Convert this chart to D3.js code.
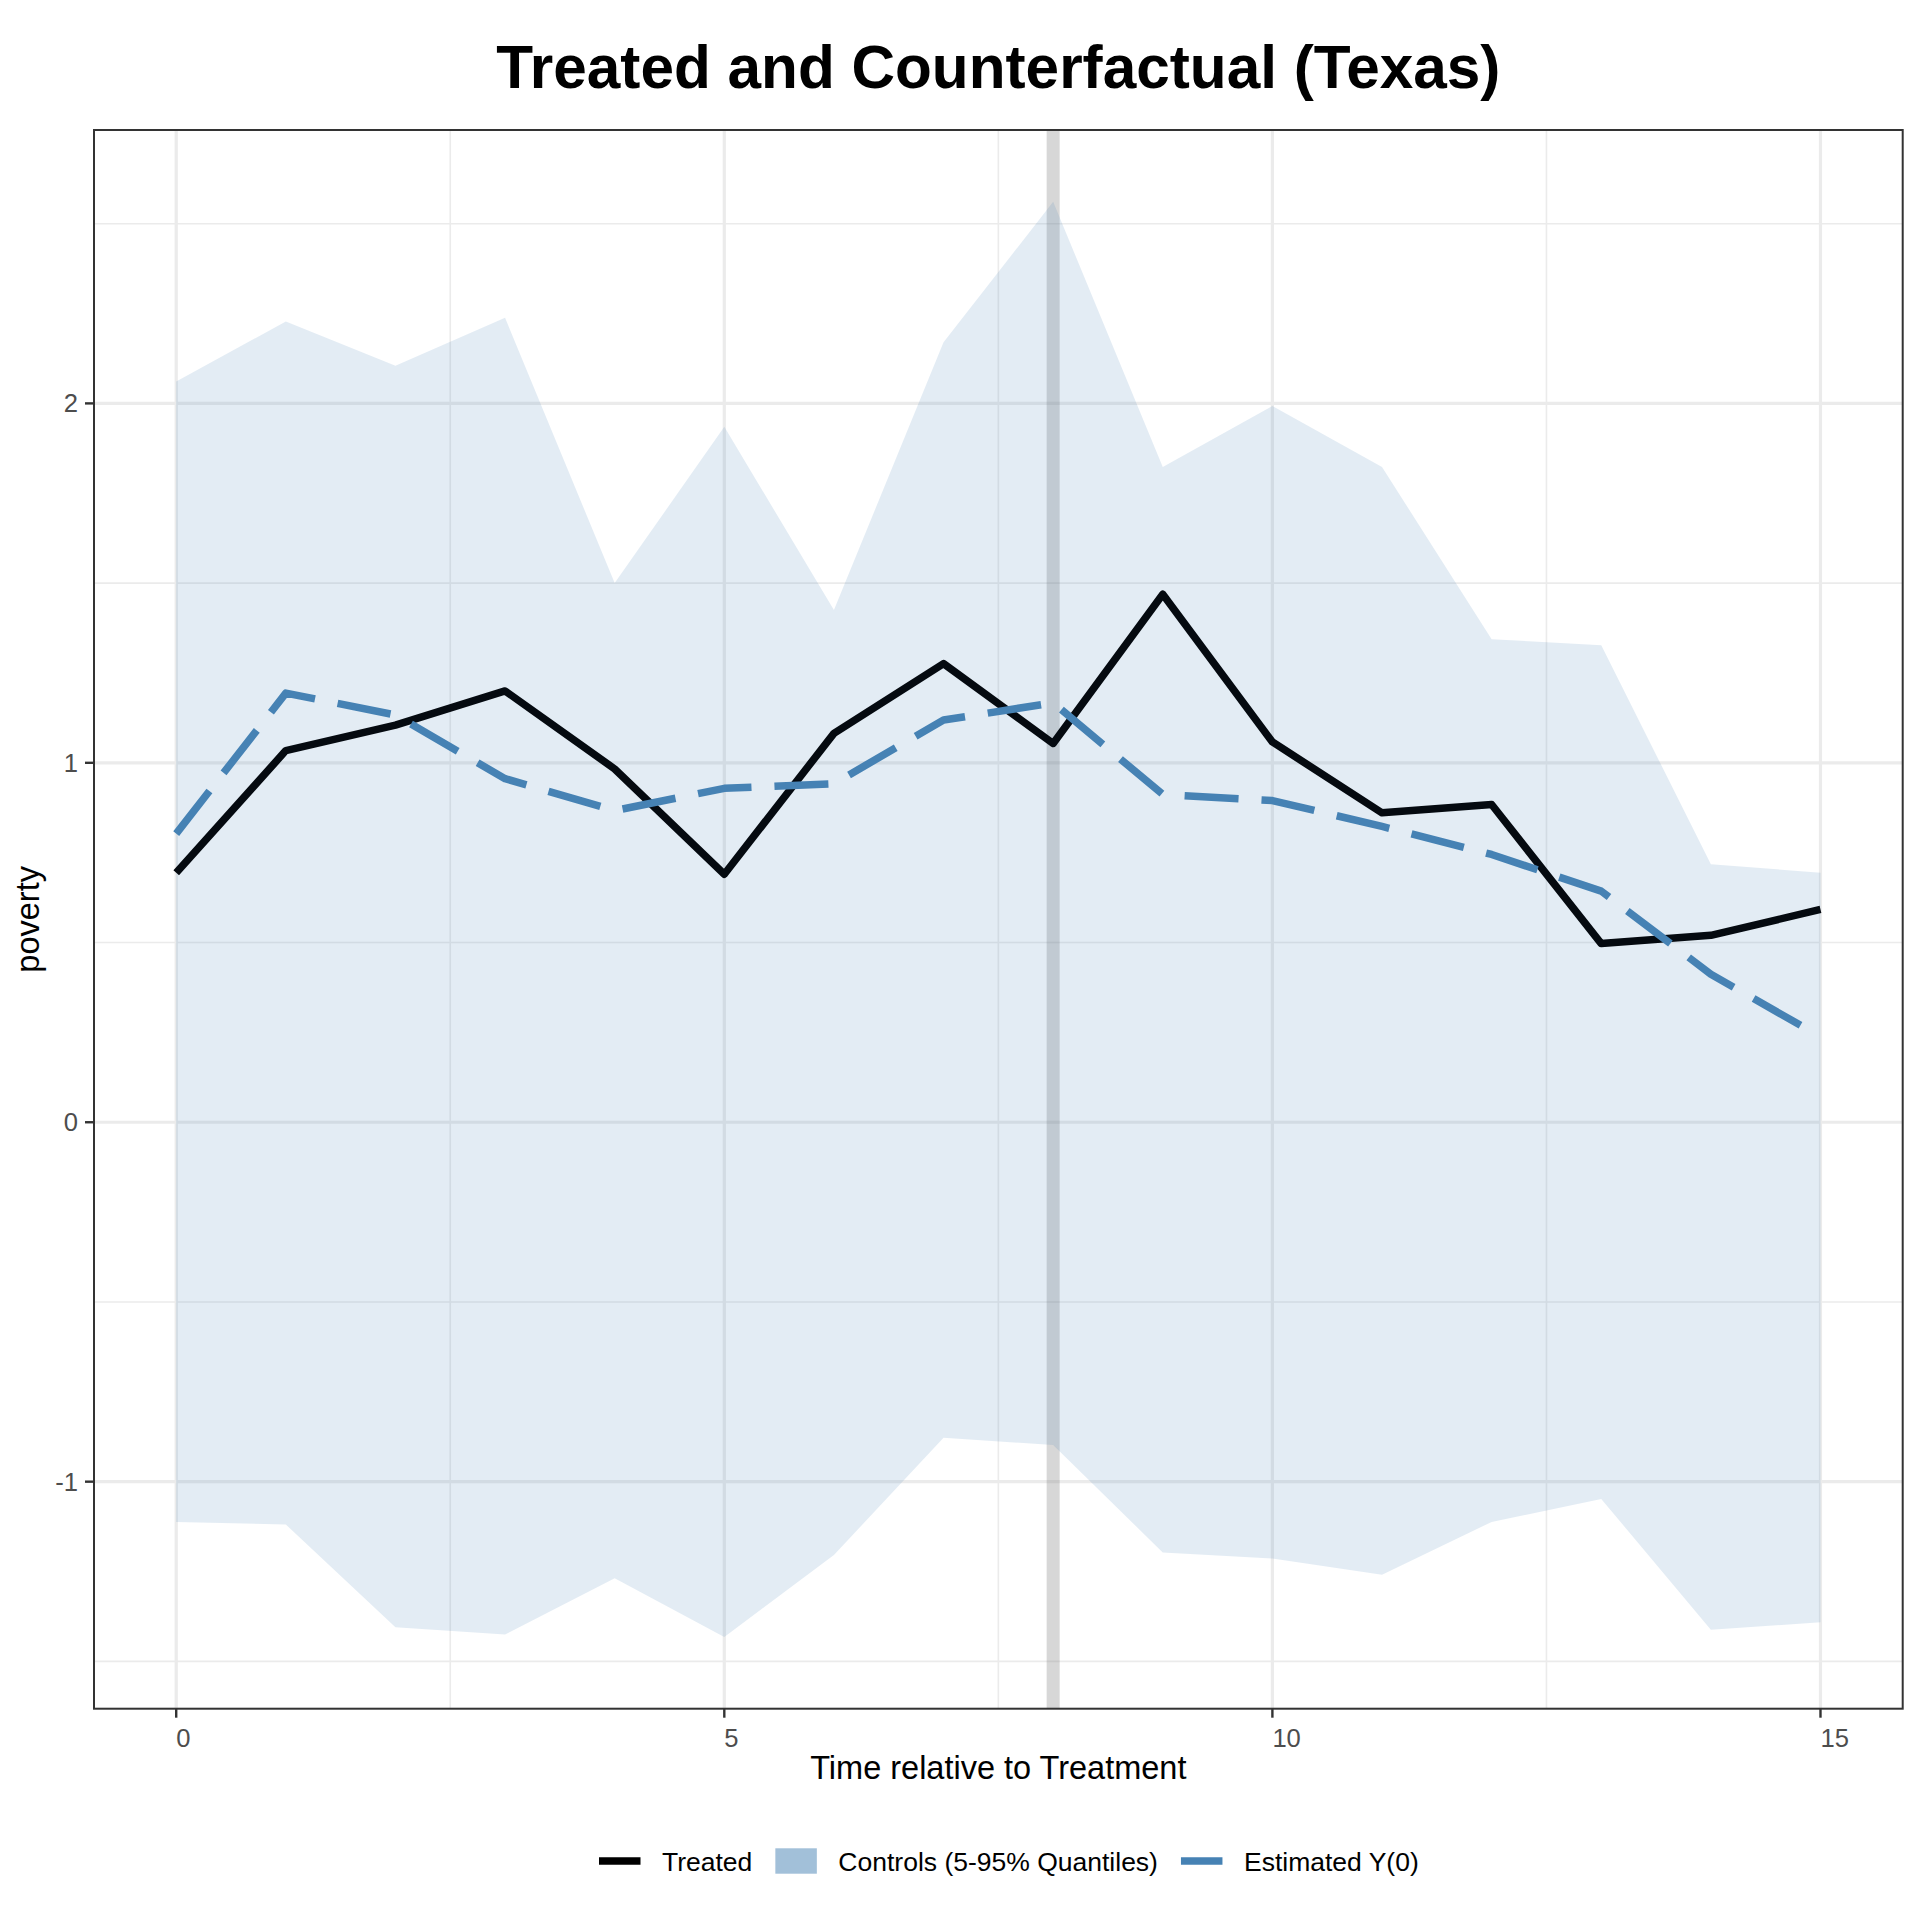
<!DOCTYPE html>
<html>
<head>
<meta charset="utf-8">
<script src="https://cdn.jsdelivr.net/npm/d3@7/dist/d3.min.js"></script>
<style>
  html, body { margin: 0; padding: 0; background: #ffffff; }
  svg { display: block; font-family: "Liberation Sans", Arial, Helvetica, sans-serif; }
</style>
</head>
<body>
<svg id="chart" width="1920" height="1920"></svg>
<script>
// ---- data ----
const times = [0, 1, 2, 3, 4, 5, 6, 7, 8, 9, 10, 11, 12, 13, 14, 15];
const treated = [0.694, 1.034, 1.105, 1.200, 0.983, 0.690, 1.082, 1.276, 1.054, 1.469, 1.058, 0.861, 0.884, 0.497, 0.520, 0.592];
const estimatedY0 = [0.803, 1.194, 1.133, 0.956, 0.867, 0.929, 0.942, 1.119, 1.167, 0.912, 0.895, 0.823, 0.745, 0.643, 0.412, 0.238];
const controlsUpper = [2.061, 2.228, 2.105, 2.238, 1.500, 1.935, 1.425, 2.170, 2.561, 1.823, 1.993, 1.823, 1.344, 1.327, 0.718, 0.694];
const controlsLower = [-1.112, -1.119, -1.405, -1.425, -1.269, -1.432, -1.204, -0.878, -0.898, -1.197, -1.214, -1.259, -1.112, -1.048, -1.412, -1.391];
const treatmentTime = 8;
const xTicks = [0, 5, 10, 15];
const xMinor = [2.5, 7.5, 12.5];
const yTicks = [-1, 0, 1, 2];
const yMinor = [-1.5, -0.5, 0.5, 1.5, 2.5];
const xTickLabels = ["0", "5", "10", "15"];
const yTickLabels = ["-1", "0", "1", "2"];
const titleText = "Treated and Counterfactual (Texas)";
const xTitle = "Time relative to Treatment";
const yTitle = "poverty";
const legendLabels = ["Treated", "Controls (5-95% Quantiles)", "Estimated Y(0)"];

// ---- layout ----
const panel = { left: 94, right: 1902.7, top: 130, bottom: 1708.7 };
const svg = d3.select("#chart");

const xExt = d3.extent(times);
const xPad = (xExt[1] - xExt[0]) * 0.05;
const x = d3.scaleLinear().domain([xExt[0] - xPad, xExt[1] + xPad]).range([panel.left, panel.right]);

const yMin = d3.min([...controlsLower, ...treated, ...estimatedY0]);
const yMax = d3.max([...controlsUpper, ...treated, ...estimatedY0]);
const yPad = (yMax - yMin) * 0.05;
const y = d3.scaleLinear().domain([yMin - yPad, yMax + yPad]).range([panel.bottom, panel.top]);

const rows = times.map((t, i) => ({ t, tr: treated[i], est: estimatedY0[i], lo: controlsLower[i], hi: controlsUpper[i] }));

svg.append("rect").attr("x", panel.left).attr("y", panel.top)
  .attr("width", panel.right - panel.left).attr("height", panel.bottom - panel.top)
  .attr("fill", "#ffffff");

const clip = svg.append("defs").append("clipPath").attr("id", "pclip");
clip.append("rect").attr("x", panel.left).attr("y", panel.top)
  .attr("width", panel.right - panel.left).attr("height", panel.bottom - panel.top);

const g = svg.append("g").attr("clip-path", "url(#pclip)");

// grid
const grid = g.append("g");
grid.selectAll(".ymin").data(yMinor).join("line")
  .attr("x1", panel.left).attr("x2", panel.right)
  .attr("y1", d => y(d)).attr("y2", d => y(d))
  .attr("stroke", "#ebebeb").attr("stroke-width", 1.6);
grid.selectAll(".xmin").data(xMinor).join("line")
  .attr("y1", panel.top).attr("y2", panel.bottom)
  .attr("x1", d => x(d)).attr("x2", d => x(d))
  .attr("stroke", "#ebebeb").attr("stroke-width", 1.6);
grid.selectAll(".ymaj").data(yTicks).join("line")
  .attr("x1", panel.left).attr("x2", panel.right)
  .attr("y1", d => y(d)).attr("y2", d => y(d))
  .attr("stroke", "#ebebeb").attr("stroke-width", 3.2);
grid.selectAll(".xmaj").data(xTicks).join("line")
  .attr("y1", panel.top).attr("y2", panel.bottom)
  .attr("x1", d => x(d)).attr("x2", d => x(d))
  .attr("stroke", "#ebebeb").attr("stroke-width", 3.2);

// treatment vertical line
g.append("line")
  .attr("x1", x(treatmentTime)).attr("x2", x(treatmentTime))
  .attr("y1", panel.top).attr("y2", panel.bottom)
  .attr("stroke", "#7f7f7f").attr("stroke-opacity", 0.31).attr("stroke-width", 13);

// ribbon
const area = d3.area().x(d => x(d.t)).y0(d => y(d.lo)).y1(d => y(d.hi));
g.append("path").datum(rows).attr("d", area)
  .attr("fill", "steelblue").attr("fill-opacity", 0.15);

// treated line
const lineTr = d3.line().x(d => x(d.t)).y(d => y(d.tr));
g.append("path").datum(rows).attr("d", lineTr)
  .attr("fill", "none").attr("stroke", "#050a10")
  .attr("stroke-width", 7.5).attr("stroke-linejoin", "round").attr("stroke-linecap", "butt");

// estimated Y(0)
const lineEst = d3.line().x(d => x(d.t)).y(d => y(d.est));
g.append("path").datum(rows).attr("d", lineEst)
  .attr("fill", "none").attr("stroke", "steelblue")
  .attr("stroke-width", 7.5).attr("stroke-dasharray", "54,23")
  .attr("stroke-linejoin", "round").attr("stroke-linecap", "butt");

// panel border
svg.append("rect").attr("x", panel.left).attr("y", panel.top)
  .attr("width", panel.right - panel.left).attr("height", panel.bottom - panel.top)
  .attr("fill", "none").attr("stroke", "#333333").attr("stroke-width", 2);

// axes
const xAxis = svg.append("g");
xAxis.selectAll("line").data(xTicks).join("line")
  .attr("x1", d => x(d)).attr("x2", d => x(d))
  .attr("y1", panel.bottom).attr("y2", panel.bottom + 9)
  .attr("stroke", "#333333").attr("stroke-width", 2.4);
xAxis.selectAll("text").data(xTicks).join("text")
  .attr("x", d => x(d)).attr("y", 1747)
  .attr("text-anchor", "start")
  .attr("font-size", 25.6).attr("fill", "#4d4d4d")
  .text((d, i) => xTickLabels[i]);

const yAxis = svg.append("g");
yAxis.selectAll("line").data(yTicks).join("line")
  .attr("x1", panel.left - 9).attr("x2", panel.left)
  .attr("y1", d => y(d)).attr("y2", d => y(d))
  .attr("stroke", "#333333").attr("stroke-width", 2.4);
yAxis.selectAll("text").data(yTicks).join("text")
  .attr("x", 78).attr("y", d => y(d) + 9)
  .attr("text-anchor", "end")
  .attr("font-size", 25.6).attr("fill", "#4d4d4d")
  .text((d, i) => yTickLabels[i]);

// titles
svg.append("text").attr("x", (panel.left + panel.right) / 2).attr("y", 88)
  .attr("text-anchor", "middle").attr("font-size", 60.3).attr("font-weight", "bold")
  .attr("fill", "#000000").text(titleText);
svg.append("text").attr("x", (panel.left + panel.right) / 2).attr("y", 1779)
  .attr("text-anchor", "middle").attr("font-size", 32.5).attr("fill", "#000000").text(xTitle);
svg.append("text")
  .attr("transform", `translate(39,${(panel.top + panel.bottom) / 2}) rotate(-90)`)
  .attr("text-anchor", "middle").attr("font-size", 32.5).attr("fill", "#000000").text(yTitle);

// legend
const leg = svg.append("g");
const keyW = 41.5, keyGap = 21.5, itemGap = 23;
const keyCy = 1861;
let cx = 599;
legendLabels.forEach((lab, i) => {
  if (i === 0) {
    leg.append("line").attr("x1", cx).attr("x2", cx + keyW).attr("y1", keyCy).attr("y2", keyCy)
      .attr("stroke", "#000000").attr("stroke-width", 7.5);
  } else if (i === 1) {
    leg.append("rect").attr("x", cx).attr("y", 1848.3).attr("width", keyW).attr("height", 25.4)
      .attr("fill", "steelblue").attr("fill-opacity", 0.5);
  } else {
    leg.append("line").attr("x1", cx).attr("x2", cx + keyW).attr("y1", keyCy).attr("y2", keyCy)
      .attr("stroke", "steelblue").attr("stroke-width", 7.5);
  }
  const t = leg.append("text").attr("x", cx + keyW + keyGap).attr("y", 1870.7)
    .attr("font-size", 26.5).attr("fill", "#000000").text(lab);
  const w = t.node().getComputedTextLength();
  cx = cx + keyW + keyGap + w + itemGap;
});
</script>
</body>
</html>
